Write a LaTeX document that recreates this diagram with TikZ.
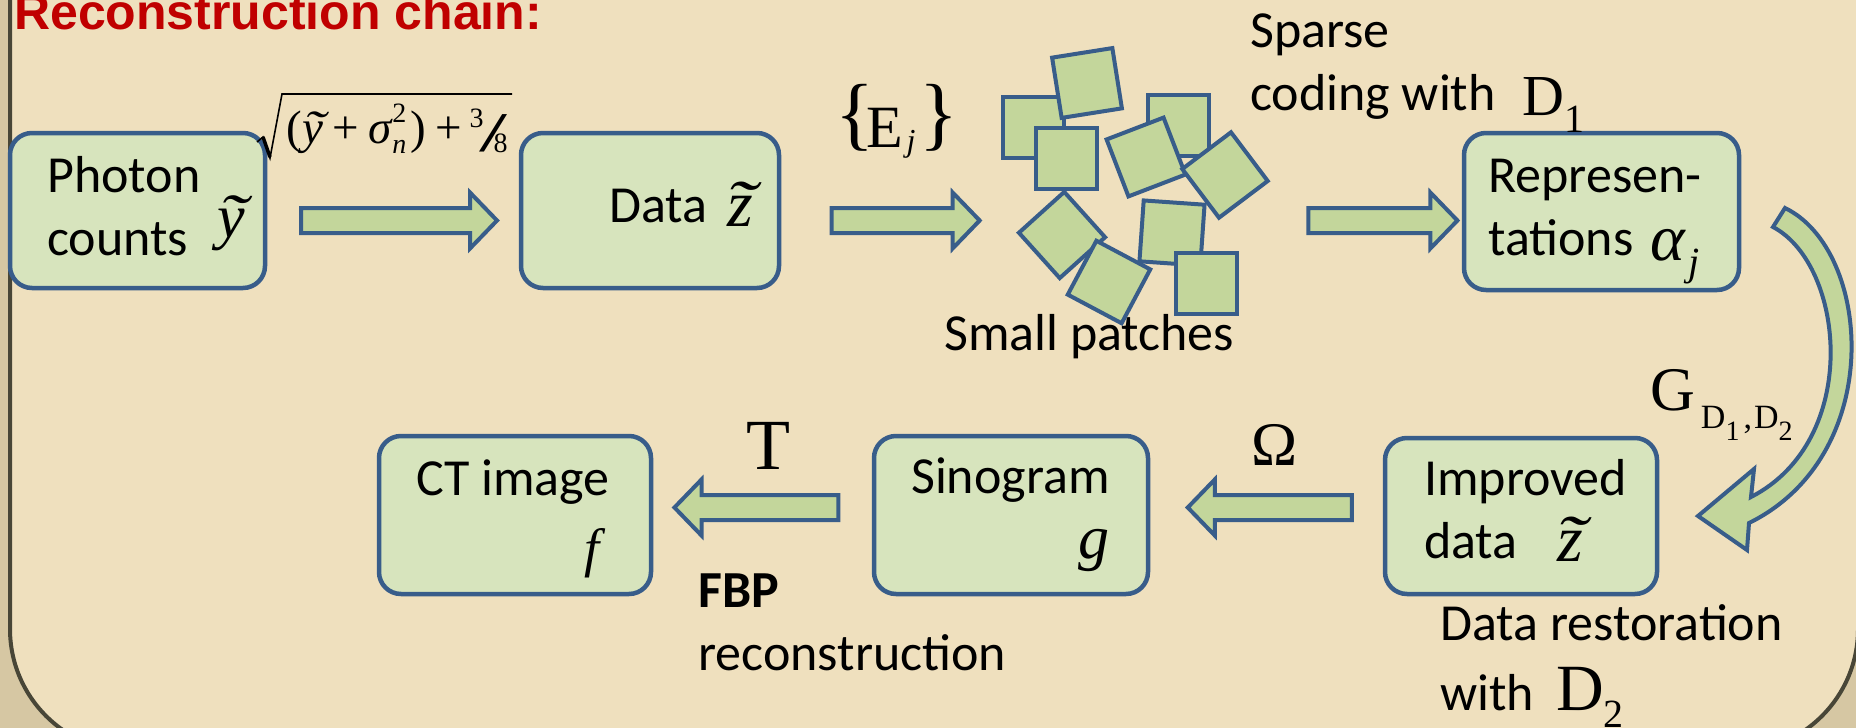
\documentclass[tikz,border=0pt]{standalone}
\usepackage{graphicx}
\usepackage{fontspec}
\setmainfont{Carlito}
\newfontfamily\tnr{Liberation Serif}
\newfontfamily\arl{Liberation Sans}
\usetikzlibrary{shapes.arrows,calc}

\definecolor{parch}{RGB}{239,224,190}
\definecolor{parchdk}{RGB}{214,199,163}
\definecolor{framec}{RGB}{72,70,55}
\definecolor{edgeblue}{RGB}{56,93,138}
\definecolor{boxfill}{RGB}{215,228,189}
\definecolor{arrfill}{RGB}{195,214,155}
\definecolor{titlered}{RGB}{192,0,0}

\newcommand\sz[1]{\fontsize{#1}{#1}\selectfont}
% letter with a tilde on top (#1 = sideways shift of the tilde)
\newcommand\tld[2]{\ooalign{#2\cr\hidewidth\kern#1\scalebox{1.4}[1]{\char"02DC}\hidewidth\cr}}

\begin{document}
\begin{tikzpicture}[x=1pt,y=-1pt,
  box/.style={draw=edgeblue, line width=4.5pt, fill=boxfill, rounded corners=22pt, inner sep=0pt},
  blockarr/.style={single arrow, draw=edgeblue, line width=4pt, fill=arrfill, inner xsep=0pt, inner ysep=10.5pt,
    single arrow head extend=15.5pt, single arrow tip angle=92},
  patch/.style={draw=edgeblue, line width=4pt, fill=arrfill, minimum size=61pt, inner sep=0pt},
  txt/.style={font=\sz{52}, inner sep=0pt, anchor=base west},
  sym/.style={inner sep=0pt, anchor=base west}
]
  \useasboundingbox (0,0) rectangle (1856,728);
  \clip (0,0) rectangle (1856,728);

  % slide background
  \fill[parchdk] (0,0) rectangle (1856,728);
  \draw[framec, line width=4pt, fill=parch, rounded corners=123pt] (10,-200) rectangle (1858,752);

  \node[font=\arl\bfseries\sz{50}, text=titlered, inner sep=0pt, anchor=base west] (title) at (14,29) {Reconstruction chain:};

  % upper row
  \node[box, minimum width=255pt, minimum height=155pt] (photon) at (137.5,210.5) {};
  \node[box, minimum width=258pt, minimum height=155pt] (data) at (650,210.5) {};
  \node[box, minimum width=275pt, minimum height=157pt] (repr) at (1601.5,211.5) {};
  % lower row
  \node[box, minimum width=272pt, minimum height=158pt] (ct) at (515,515) {};
  \node[box, minimum width=274pt, minimum height=158pt] (sino) at (1011,515) {};
  \node[box, minimum width=272pt, minimum height=156pt] (impr) at (1521,516) {};

  \node[txt] (photonA) at (47,192) {Photon};
  \node[txt] (photonB) at (47,255) {counts};
  \node[sym, font=\tnr\itshape\sz{62}] (ytil) at (217,237) {\tld{4pt}{y}};
  \node[txt] (dataA) at (609,222) {Data};
  \node[sym, font=\tnr\itshape\sz{66}] (ztil) at (727,226) {\tld{2pt}{z}};
  \node[txt] (reprA) at (1488,192) {Represen-};
  \node[txt] (reprB) at (1488,255) {tations};
  \node[sym] (alpha) at (1650,260) {{\tnr\itshape\sz{66}α}\kern4pt\raisebox{-15pt}{\tnr\itshape\sz{40}j}};
  \node[txt] (imprA) at (1424,495) {Improved};
  \node[txt] (imprB) at (1424,558) {data};
  \node[sym, font=\tnr\itshape\sz{66}] (ztilb) at (1557,561) {\tld{2pt}{z}};
  \node[txt] (sinoA) at (911,493) {Sinogram};
  \node[sym, font=\tnr\itshape\sz{62}] (gvar) at (1078,558) {g};
  \node[txt] (ctA) at (416,495) {CT image};
  \node[sym, font=\tnr\itshape\sz{54}] (fvar) at (584,566) {f};

  % small patches
  \foreach \px/\py/\rot [count=\i] in {1033/127/0, 1178/125/0, 1087/83/9, 1066/158/0,
      1172/233/-4, 1146/157/21, 1225/175/37, 1062/235/42, 1109/282/-28, 1206/283/0}
    \node[patch, rotate=\rot] (p\i) at (\px,\py) {};
  \coordinate (pw) at (1018,220.5);
  \coordinate (pe) at (1292,220.5);

  % block arrows
  \path ([shift={(0,10)}]photon.east) -- ([shift={(0,10)}]data.west)
    node[midway, blockarr, minimum height=196pt] (a1) {};
  \path ([shift={(0,10)}]data.east) -- (pw)
    node[midway, blockarr, minimum height=148pt] (a2) {};
  \path (pe) -- ([shift={(0,9)}]repr.west)
    node[midway, blockarr, minimum height=149pt] (a3) {};
  \path ([shift={(0,-7.5)}]sino.west) -- ([shift={(0,-7.5)}]ct.east)
    node[midway, blockarr, shape border rotate=180, minimum height=164pt] (a4) {};
  \path ([shift={(0,-8.5)}]impr.west) -- ([shift={(0,-7.5)}]sino.east)
    node[pos=0.46, blockarr, shape border rotate=180, minimum height=164pt] (a5) {};

  % curved arrow
  \draw[edgeblue, line width=4pt, fill=arrfill]
    (1785,208) .. controls (1872,250) and (1887,455) .. (1749,523)
    -- (1747,550) -- (1698,516) -- (1754,469) -- (1751,497)
    .. controls (1862,440) and (1845,265) .. (1773,227) -- cycle;

  % labels
  \node[sym, font=\tnr\sz{47}] (vst) at (286,143) {(\kern1pt{\itshape\tld{3pt}{y}}\kern9pt+\kern9pt{\itshape σ}\kern1pt\rlap{\raisebox{21pt}{\sz{28}2}}\raisebox{-10pt}{\sz{28}\itshape n}\kern4pt)\kern9pt+\kern8pt\raisebox{16pt}{\sz{28}3}\kern-4pt\raisebox{-8pt}{\scalebox{1.8}[1]{\sz{56}/}}\kern-14pt\raisebox{-9pt}{\sz{28}8}};
  \draw[line width=1.6pt, line join=miter] ([shift={(-29,-1)}]vst.base west) -- ([shift={(-23,-6)}]vst.base west)
    -- ([shift={(-16,15)}]vst.base west) -- ([shift={(-4,-49)}]vst.base west) -- ([shift={(226,-49)}]vst.base west);
  \draw[line width=3.5pt] ([shift={(-23,-6)}]vst.base west) -- ([shift={(-16,14)}]vst.base west);
  \node[sym, font=\tnr] (ej) at (835,140) {{\sz{81}\{}\kern-8pt\raisebox{-7pt}{\sz{60}E}\kern4pt\raisebox{-11pt}{\sz{32}\itshape j}\kern4pt{\sz{81}\}}};
  \node[txt] (sparse) at (1250,47) {Sparse};
  \node[txt] (coding) at (1250,110) {coding with};
  \node[sym] (dicta) at (1522,115) {{\tnr\sz{58}D}\raisebox{-17pt}{\tnr\sz{40}1}};
  \node[txt] (small) at (944,350) {Small patches};
  \node[sym] (glab) at (1650,410) {{\tnr\sz{62}G}\kern6pt\raisebox{-18pt}{\tnr\sz{34}D\raisebox{-12pt}{\sz{28}1}\kern4pt,\kern2pt D\raisebox{-12pt}{\sz{28}2}}};
  \node[font=\tnr\sz{72}, inner sep=0pt, anchor=base] (tlab) at (768,469) {T};
  \node[font=\tnr\sz{62}, inner sep=0pt, anchor=base] (olab) at (1275,465) {Ω};
  \node[txt, font=\sz{52}\bfseries] (fbp) at (698,607) {FBP};
  \node[txt] (recon) at (698,670) {reconstruction};
  \node[txt] (restore) at (1440,640) {Data restoration};
  \node[txt] (with) at (1440,710) {with};
  \node[sym] (dictb) at (1556,710) {{\tnr\sz{66}D}\raisebox{-17pt}{\tnr\sz{40}2}};
\end{tikzpicture}
\end{document}
